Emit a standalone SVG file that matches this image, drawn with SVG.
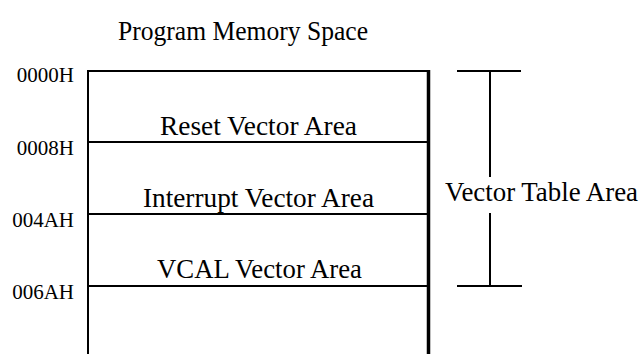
<svg xmlns="http://www.w3.org/2000/svg" width="641" height="354" viewBox="0 0 641 354">
  <style>
    .lbl { font-family: "Liberation Serif", "Times New Roman", serif; font-size: 26.5px; fill: #000; }
    .mid { text-anchor: middle; }
    .addr { font-family: "Liberation Serif", "Times New Roman", serif; font-size: 21px; fill: #000; text-anchor: end; }
    .ln { stroke: #000; stroke-width: 2; fill: none; }
    .thick { stroke: #000; stroke-width: 3.5; fill: none; }
  </style>
  <rect width="641" height="354" fill="#fff"/>

  <g id="title">
    <text class="lbl" x="118" y="40" textLength="250" lengthAdjust="spacingAndGlyphs">Program Memory Space</text>
  </g>

  <!-- memory map outline -->
  <g id="memory-map">
    <line class="ln" x1="88" y1="71" x2="428" y2="71"/>
    <line class="ln" x1="88" y1="70" x2="88" y2="354"/>
    <line class="thick" x1="428.5" y1="70" x2="428.5" y2="354"/>
  </g>

  <g id="reset-vector">
    <line class="ln" x1="88" y1="142" x2="428" y2="142"/>
    <text class="lbl" x="160" y="135" textLength="197" lengthAdjust="spacingAndGlyphs">Reset Vector Area</text>
  </g>

  <g id="interrupt-vector">
    <line class="ln" x1="88" y1="214" x2="428" y2="214"/>
    <text class="lbl" x="143" y="207" textLength="231" lengthAdjust="spacingAndGlyphs">Interrupt Vector Area</text>
  </g>

  <g id="vcal-vector">
    <line class="ln" x1="88" y1="286" x2="428" y2="286"/>
    <text class="lbl" x="157" y="278" textLength="205" lengthAdjust="spacingAndGlyphs">VCAL Vector Area</text>
  </g>

  <g id="addresses">
    <text class="addr" x="74" y="82">0000H</text>
    <text class="addr" x="74" y="155">0008H</text>
    <text class="addr" x="74" y="227">004AH</text>
    <text class="addr" x="74" y="299">006AH</text>
  </g>

  <!-- span bracket for the vector table -->
  <g id="connectors">
    <line class="ln" x1="457" y1="71" x2="521" y2="71"/>
    <line class="ln" x1="490" y1="71" x2="490" y2="177"/>
    <line class="ln" x1="490" y1="213" x2="490" y2="286"/>
    <line class="ln" x1="457" y1="286" x2="522" y2="286"/>
  </g>

  <g id="vector-table">
    <text class="lbl" x="445" y="201" textLength="193" lengthAdjust="spacingAndGlyphs">Vector Table Area</text>
  </g>
</svg>
